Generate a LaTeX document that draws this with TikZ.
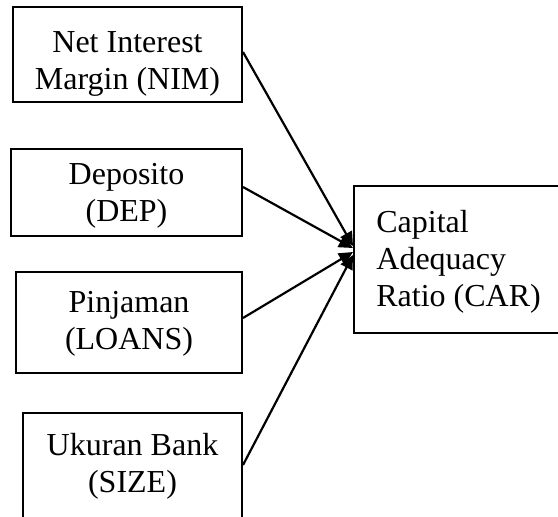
\documentclass[tikz,border=0pt]{standalone}
\usepackage{fontspec}
\setmainfont{Liberation Serif}
\usetikzlibrary{arrows.meta}
\tikzset{
  box/.style={draw=black, line width=1pt, fill=none, inner sep=0pt},
  txt/.style={inner sep=0pt, font=\fontsize{16}{18.4}\selectfont},
  link/.style={line width=1.1pt, -{Triangle[length=7pt,width=6.5pt]}},
}
\begin{document}
\begin{tikzpicture}[x=0.5pt,y=-0.5pt]
\useasboundingbox (0,0) rectangle (558,516);
\clip (0,0) rectangle (558,516);
% boxes
\node[box, minimum width=114.5pt, minimum height=47.5pt] (nim) at (127.5,54.5) {};
\node[box, minimum width=115.5pt, minimum height=43.5pt] (dep) at (126.5,192.5) {};
\node[box, minimum width=113pt, minimum height=50.5pt] (loans) at (129,322.5) {};
\node[box, minimum width=109.5pt, minimum height=58.5pt] (size) at (132.5,471.5) {};
\node[box, minimum width=105.5pt, minimum height=73.5pt] (car) at (459.5,259.5) {};
% texts
\node[txt, align=center, anchor=north] (nimt) at (127.5,31) {Net Interest\\Margin (NIM)};
\node[txt, align=center, anchor=north] (dept) at (126.5,163) {Deposito\\(DEP)};
\node[txt, align=center, anchor=north] (loanst) at (129,291) {Pinjaman\\(LOANS)};
\node[txt, align=center, anchor=north] (sizet) at (132.5,433) {Ukuran Bank\\(SIZE)};
\node[txt, align=left, anchor=north west] (cart) at (376,210) {Capital\\Adequacy\\Ratio (CAR)};
% connectors
\draw[link] ([yshift=1.25pt]nim.east) -- ([yshift=6.75pt]car.west);
\draw[link] ([yshift=2.75pt]dep.east) -- ([yshift=5.75pt]car.west);
\draw[link] ([yshift=2.25pt]loans.east) -- ([yshift=3.75pt]car.west);
\draw[link] ([yshift=3.25pt]size.east) -- ([yshift=2.25pt]car.west);
\end{tikzpicture}
\end{document}
